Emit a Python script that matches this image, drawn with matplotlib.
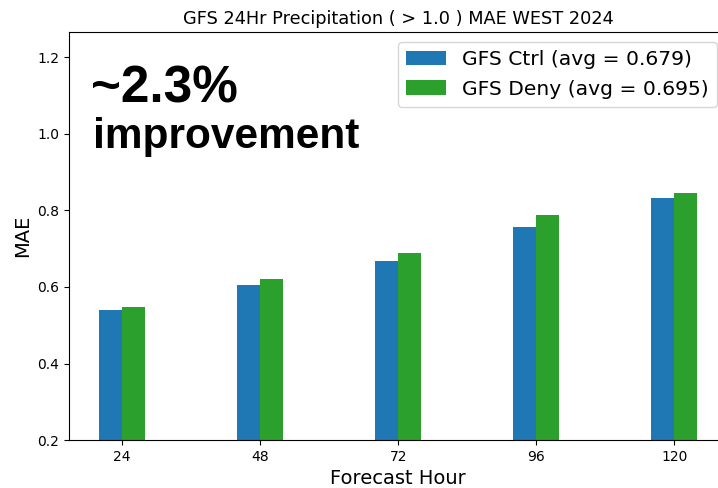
import numpy as np
import matplotlib
matplotlib.use("Agg")
import matplotlib.pyplot as plt

# forecast hours and MAE per experiment
hours = [24, 48, 72, 96, 120]
ctrl_mae = [0.541, 0.604, 0.669, 0.756, 0.831]
deny_mae = [0.547, 0.621, 0.688, 0.787, 0.845]
ctrl_label = "GFS Ctrl (avg = 0.679)"
deny_label = "GFS Deny (avg = 0.695)"

fig = plt.figure(figsize=(7.18, 4.88), dpi=100)
# the original screenshot crops the right side of the axes
ax = fig.add_axes([0.096, 0.098, 0.917, 0.836])

x = np.array(hours)
w = 4
ax.bar(x - w / 2, ctrl_mae, width=w, color="#1f77b4", label=ctrl_label)
ax.bar(x + w / 2, deny_mae, width=w, color="#2ca02c", label=deny_label)

ax.spines["right"].set_visible(False)
ax.set_xticks(hours)
ax.set_ylim(0.2, 1.265)
ax.set_yticks([0.2, 0.4, 0.6, 0.8, 1.0, 1.2])
ax.tick_params(labelsize=10)
ax.set_xlabel("Forecast Hour", fontsize=14)
ax.set_ylabel("MAE", fontsize=14)
ax.set_title("GFS 24Hr Precipitation ( > 1.0 ) MAE WEST 2024", fontsize=12.8)
ax.legend(loc="upper right", fontsize=14.6)

# annotation pasted on the slide
fig.text(0.127, 1 - 102 / 488, "~2.3%", fontsize=37, fontweight="bold",
         family="Liberation Sans", va="baseline", ha="left")
fig.text(0.129, 1 - 148 / 488, "improvement", fontsize=30.5, fontweight="bold",
         family="Liberation Sans", va="baseline", ha="left")

fig.savefig("out.png", dpi=100)
